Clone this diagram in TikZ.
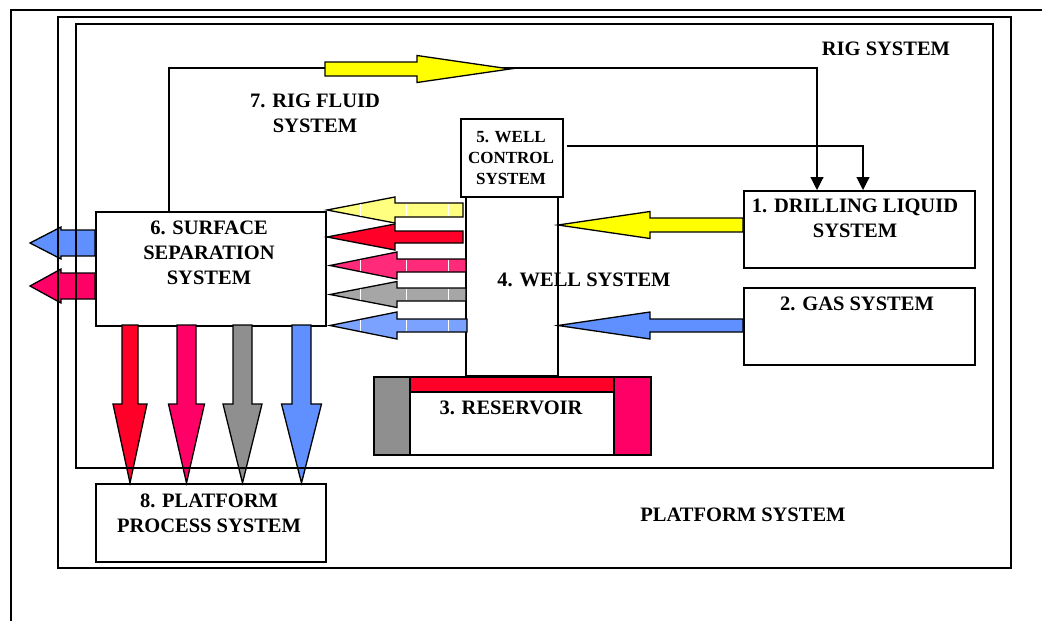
\documentclass[tikz,border=0pt]{standalone}
\usepackage{fontspec}
\setmainfont{Liberation Serif}
\usetikzlibrary{arrows.meta}
\definecolor{cyel}{HTML}{FFFF00}
\definecolor{cred}{HTML}{FF0028}
\definecolor{cpink}{HTML}{FF0066}
\definecolor{cgrey}{HTML}{8F8F8F}
\definecolor{cblue}{HTML}{6090FF}
\definecolor{pyel}{HTML}{FFFF80}
\definecolor{ppink}{HTML}{FF2A7A}
\definecolor{pgrey}{HTML}{A6A6A6}
\definecolor{pblue}{HTML}{7CA2FF}
\tikzset{
  frame/.style={draw, line width=1.4pt},
  box/.style={draw, line width=1.5pt, fill=white, inner sep=0pt, anchor=north west},
  lbl/.style={font=\fontsize{20.5}{25}\selectfont\bfseries, align=center, anchor=north, inner sep=0pt, text depth=0pt},
  slbl/.style={font=\fontsize{17}{21}\selectfont\bfseries, align=center, anchor=north, inner sep=0pt, text depth=0pt},
  barrow/.style={draw, line width=1.3pt, line join=miter},
  conn/.style={draw, line width=1.1pt, -{Triangle[length=13pt,width=13pt]}},
  sep/.style={draw=white, line width=0.9pt}
}
% horizontal block arrow: tail x, tip x, head start x, centre y, shaft half, head half, colour
\newcommand\harrow[7]{\draw[barrow, fill=#7] (#1,{#4-#5}) -- (#3,{#4-#5}) -- (#3,{#4-#6}) -- (#2,#4) -- (#3,{#4+#6}) -- (#3,{#4+#5}) -- (#1,{#4+#5}) -- cycle;}
% vertical block arrow: centre x, tail y, tip y, head start y, shaft half, head half, colour
\newcommand\varrow[7]{\draw[barrow, fill=#7] ({#1-#5},#2) -- ({#1-#5},#4) -- ({#1-#6},#4) -- (#1,#3) -- ({#1+#6},#4) -- ({#1+#5},#4) -- ({#1+#5},#2) -- cycle;}
\begin{document}
\begin{tikzpicture}[x=1pt,y=-1pt]
\useasboundingbox (0,0) rectangle (1042,621);
\fill[white] (0,0) rectangle (1042,621);

% boxes
\node[box, minimum width=230, minimum height=114] (box6) at (95,211) {};
\node[box, minimum width=230, minimum height=78] (box8) at (95,483) {};
\node[box, minimum width=231, minimum height=77] (box1) at (743,190) {};
\node[box, minimum width=231, minimum height=77] (box2) at (743,287) {};
\node[box, minimum width=92, minimum height=179] (box4) at (465,196) {};
\node[box, minimum width=102, minimum height=78] (box5) at (460,118) {};

% reservoir
\node[box, minimum width=277, minimum height=78] (res) at (373,376) {};
\node[box, fill=cgrey, minimum width=36, minimum height=78] (resl) at (373,376) {};
\node[box, fill=cpink, minimum width=37, minimum height=78] (resr) at (613,376) {};
\node[box, fill=cred, minimum width=204, minimum height=15] (resb) at (409,376) {};

% texts
\node[lbl] (t6) at (209,221) {6. SURFACE\\SEPARATION\\SYSTEM};
\node[lbl] (t8) at (209,494) {8. PLATFORM\\PROCESS SYSTEM};
\node[lbl] (t1) at (855,199) {1. DRILLING LIQUID\\SYSTEM};
\node[lbl] (t2) at (857,297) {2. GAS SYSTEM};
\node[lbl] (t4) at (584,273) {4. WELL SYSTEM};
\node[lbl] (t3) at (511,401) {3. RESERVOIR};
\node[slbl] (t5) at (511,131) {5. WELL\\CONTROL\\SYSTEM};
\node[lbl] (t7) at (315,94) {7. RIG FLUID\\SYSTEM};
\node[lbl] (trig) at (886,42) {RIG SYSTEM};
\node[lbl] (tplat) at (743,508) {PLATFORM SYSTEM};

% thin connectors
\coordinate (rf0) at (169,211);
\coordinate (rf1) at (817,68);
\draw[conn] (rf0) |- (rf1) -- (rf1 |- box1.north);
\coordinate (wc0) at (567,146);
\coordinate (wc1) at (863,146);
\draw[conn] (wc0) -- (wc1) -- (wc1 |- box1.north);

% big arrow on rig fluid line
\harrow{325}{510}{417}{69}{7}{13.5}{cyel}

% arrows into well system
\harrow{743}{558}{650}{225}{7}{13.5}{cyel}
\harrow{743}{558}{650}{325.5}{6.5}{13.5}{cblue}

% arrows from well system to surface separation
\harrow{463}{327}{395}{210}{7}{13}{pyel}
\harrow{463}{327}{395}{237}{6}{13}{cred}
\harrow{466}{330}{397}{265.5}{6.5}{13.5}{ppink}
\harrow{466}{330}{397}{294.5}{6.5}{13}{pgrey}
\harrow{467}{330}{397}{325.5}{6.5}{13.5}{pblue}
\foreach \yy/\hh in {210/6, 265.5/5.5, 294.5/5.5, 325.5/5.5} {
  \foreach \xx in {360,406,448} {
    \draw[sep] (\xx,{\yy-\hh}) -- (\xx,{\yy+\hh});
  }
}

% arrows out of the surface separation (left)
\harrow{95}{30}{61}{243}{13}{16}{cblue}
\harrow{95}{30}{61}{286}{13}{17}{cpink}

% arrows down to platform process
\varrow{130}{325}{483}{404}{8}{17}{cred}
\varrow{186.5}{325}{483}{404}{9.5}{18}{cpink}
\varrow{242.5}{325}{483}{404}{9.5}{19.5}{cgrey}
\varrow{301.5}{325}{483}{404}{9.5}{20}{cblue}

% frames
\draw[frame] (11,621) -- (11,10) -- (1042,10);
\draw[frame] (58,17) rectangle (1011,568);
\draw[frame] (76,24) rectangle (993,468);
\end{tikzpicture}
\end{document}
